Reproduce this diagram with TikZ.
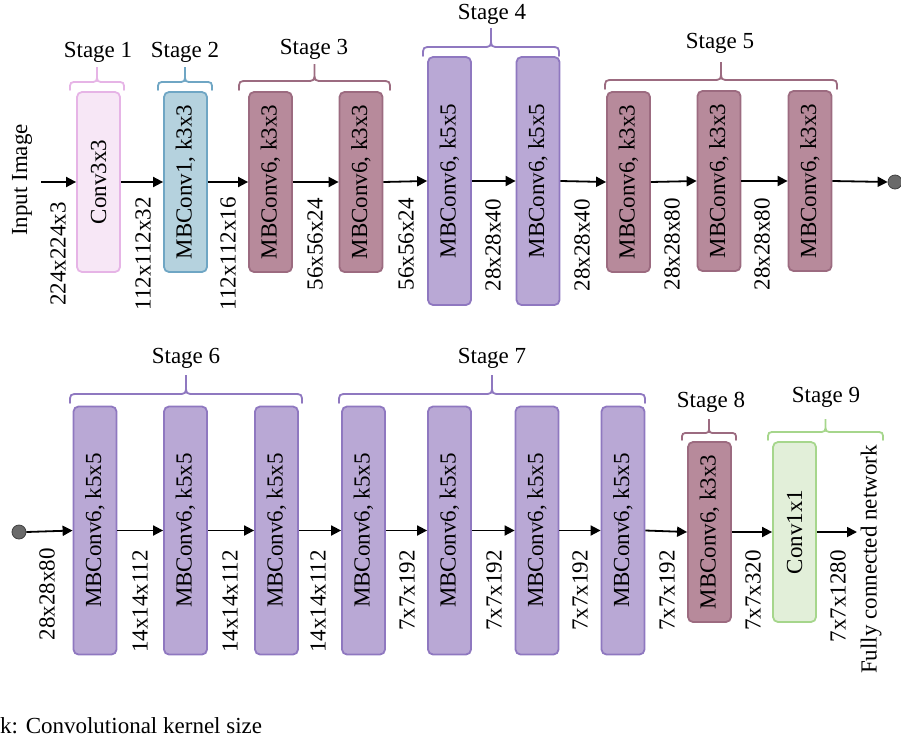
\documentclass[tikz,border=0pt]{standalone}
\usepackage{fontspec}
\setmainfont{Liberation Serif}
\usetikzlibrary{arrows.meta}

\definecolor{convfill}{HTML}{F7E7F6}
\definecolor{convline}{HTML}{E6B4E6}
\definecolor{mbonefill}{HTML}{B5D2DE}
\definecolor{mboneline}{HTML}{6FA6C4}
\definecolor{mauvefill}{HTML}{B78A9B}
\definecolor{mauveline}{HTML}{9C6B80}
\definecolor{lilacfill}{HTML}{B9A8D5}
\definecolor{lilacline}{HTML}{8F78C0}
\definecolor{greenfill}{HTML}{E2EFD9}
\definecolor{greenline}{HTML}{A6D68C}
\definecolor{dotfill}{HTML}{6A6A6A}
\definecolor{dotline}{HTML}{404040}

% curly brace above a stage: x from #1 to #2, tips at #3, bar at #4, peak at #5
\newcommand{\stagebrace}[6]{%
  \pgfmathsetmacro{\bxm}{(#1+#2)/2}%
  \pgfmathsetmacro{\br}{#3-#4}%
  \draw[bracestyle, draw=#6]
    (#1,#3) .. controls (#1,#4) .. (#1+\br,#4) -- (\bxm-\br,#4)
    .. controls (\bxm,#4) .. (\bxm,#4-\br) -- (\bxm,#5)
    -- (\bxm,#4-\br) .. controls (\bxm,#4) .. (\bxm+\br,#4)
    -- (#2-\br,#4) .. controls (#2,#4) .. (#2,#3);%
}

\begin{document}
\begin{tikzpicture}[x=1pt, y=-1pt,
  font=\fontsize{23}{27}\selectfont,
  layer/.style={draw, rounded corners=5pt, line width=1.8pt,
    minimum width=43pt, inner sep=0pt},
  short/.style={minimum height=180pt},
  tall/.style={minimum height=248pt},
  convbox/.style={layer, fill=convfill, draw=convline},
  mbonebox/.style={layer, fill=mbonefill, draw=mboneline},
  mauvebox/.style={layer, fill=mauvefill, draw=mauveline},
  lilacbox/.style={layer, fill=lilacfill, draw=lilacline},
  greenbox/.style={layer, fill=greenfill, draw=greenline},
  dims/.style={rotate=90, anchor=east, inner sep=0pt},
  flow/.style={-{Triangle[length=10pt,width=10pt]}, line width=1.8pt},
  bracestyle/.style={line width=1.8pt, line cap=round},
  stagelabel/.style={inner sep=0pt},
  joint/.style={circle, minimum size=14pt, inner sep=0pt, fill=dotfill,
    draw=dotline, line width=0.8pt}
]
\useasboundingbox (0,0) rectangle (901,739);

% ---------- first row ----------
\node[rotate=90, inner sep=0pt] (input) at (22,180) {Input Image};
\coordinate (in) at (41,182);

\node[convbox, short]  (c1) at (98.5,182) {\rotatebox{90}{Conv3x3}};
\node[mbonebox, short] (c2) at (185.5,182) {\rotatebox{90}{MBConv1, k3x3}};
\node[mauvebox, short] (c3) at (270.5,182) {\rotatebox{90}{MBConv6, k3x3}};
\node[mauvebox, short] (c4) at (361,182) {\rotatebox{90}{MBConv6, k3x3}};
\node[lilacbox, tall]  (c5) at (449.5,181) {\rotatebox{90}{MBConv6, k5x5}};
\node[lilacbox, tall]  (c6) at (538,181) {\rotatebox{90}{MBConv6, k5x5}};
\node[mauvebox, short] (c7) at (628.5,182) {\rotatebox{90}{MBConv6, k3x3}};
\node[mauvebox, short] (c8) at (719,181) {\rotatebox{90}{MBConv6, k3x3}};
\node[mauvebox, short] (c9) at (810,181) {\rotatebox{90}{MBConv6, k3x3}};
\node[joint] (j1) at (895,182) {};

\draw[flow] (in) -- (c1.west);
\draw[flow] (c1.east) -- (c2.west);
\draw[flow] (c2.east) -- (c3.west);
\draw[flow] (c3.east) -- (c4.west);
\draw[flow] (c4.east) -- (c5.west);
\draw[flow] (c5.east) -- (c6.west);
\draw[flow] (c6.east) -- (c7.west);
\draw[flow] (c7.east) -- (c8.west);
\draw[flow] (c8.east) -- (c9.west);
\draw[flow] (c9.east) -- (j1.west);

\node[dims] (d1) at (58,202) {224x224x3};
\node[dims] (d2) at (143,197) {112x112x32};
\node[dims] (d3) at (228,197) {112x112x16};
\node[dims] (d4) at (315,198) {56x56x24};
\node[dims] (d5) at (406,198) {56x56x24};
\node[dims] (d6) at (493,199) {28x28x40};
\node[dims] (d7) at (582,199) {28x28x40};
\node[dims] (d8) at (672,198) {28x28x80};
\node[dims] (d9) at (762,198) {28x28x80};

\stagebrace{70}{124}{90}{82}{67}{convline}
\stagebrace{158}{212}{90}{82}{67}{mboneline}
\stagebrace{239}{390}{90}{81}{64}{mauveline}
\stagebrace{423}{559}{56}{47}{28}{lilacline}
\stagebrace{605}{837}{89}{80}{62}{mauveline}

\node[stagelabel] (s1) at (98,52) {Stage 1};
\node[stagelabel] (s2) at (185,52) {Stage 2};
\node[stagelabel] (s3) at (314,49) {Stage 3};
\node[stagelabel] (s4) at (492,14) {Stage 4};
\node[stagelabel] (s5) at (720,43) {Stage 5};

% ---------- second row ----------
\node[joint] (j2) at (19,532) {};

\node[lilacbox, tall]  (e1) at (95,530.5) {\rotatebox{90}{MBConv6, k5x5}};
\node[lilacbox, tall]  (e2) at (185.5,530.5) {\rotatebox{90}{MBConv6, k5x5}};
\node[lilacbox, tall]  (e3) at (276.5,530.5) {\rotatebox{90}{MBConv6, k5x5}};
\node[lilacbox, tall]  (e4) at (363.5,530.5) {\rotatebox{90}{MBConv6, k5x5}};
\node[lilacbox, tall]  (e5) at (449.5,530.5) {\rotatebox{90}{MBConv6, k5x5}};
\node[lilacbox, tall]  (e6) at (537,530.5) {\rotatebox{90}{MBConv6, k5x5}};
\node[lilacbox, tall]  (e7) at (623,530.5) {\rotatebox{90}{MBConv6, k5x5}};
\node[mauvebox, short] (e8) at (709.5,532) {\rotatebox{90}{MBConv6, k3x3}};
\node[greenbox, short] (e9) at (794.5,532) {\rotatebox{90}{Conv1x1}};
\coordinate (out) at (857,532);

\draw[flow] (j2.east) -- (e1.west);
\draw[flow] (e1.east) -- (e2.west);
\draw[flow] (e2.east) -- (e3.west);
\draw[flow] (e3.east) -- (e4.west);
\draw[flow] (e4.east) -- (e5.west);
\draw[flow] (e5.east) -- (e6.west);
\draw[flow] (e6.east) -- (e7.west);
\draw[flow] (e7.east) -- (e8.west);
\draw[flow] (e8.east) -- (e9.west);
\draw[flow] (e9.east) -- (out);

\node[dims] (f1) at (47,548) {28x28x80};
\node[dims] (f2) at (140,550) {14x14x112};
\node[dims] (f3) at (230,550) {14x14x112};
\node[dims] (f4) at (318,550) {14x14x112};
\node[dims] (f5) at (407,550) {7x7x192};
\node[dims] (f6) at (494,550) {7x7x192};
\node[dims] (f7) at (580,550) {7x7x192};
\node[dims] (f8) at (667,550) {7x7x192};
\node[dims] (f9) at (753,550) {7x7x320};
\node[dims] (f10) at (838,550) {7x7x1280};
\node[dims] (fc) at (871,445) {Fully connected network};

\stagebrace{70}{302}{403}{394}{375}{lilacline}
\stagebrace{339}{645}{403}{394}{375}{lilacline}
\stagebrace{682}{736}{440}{433}{419}{mauveline}
\stagebrace{768}{883}{440}{432}{419}{greenline}

\node[stagelabel] (s6) at (186,358) {Stage 6};
\node[stagelabel] (s7) at (492,358) {Stage 7};
\node[stagelabel] (s8) at (711,402) {Stage 8};
\node[stagelabel] (s9) at (826,397) {Stage 9};

% ---------- legend ----------
\node[anchor=base west, inner sep=0pt] (legend) at (0,733) {k: Convolutional kernel size};
\end{tikzpicture}
\end{document}
